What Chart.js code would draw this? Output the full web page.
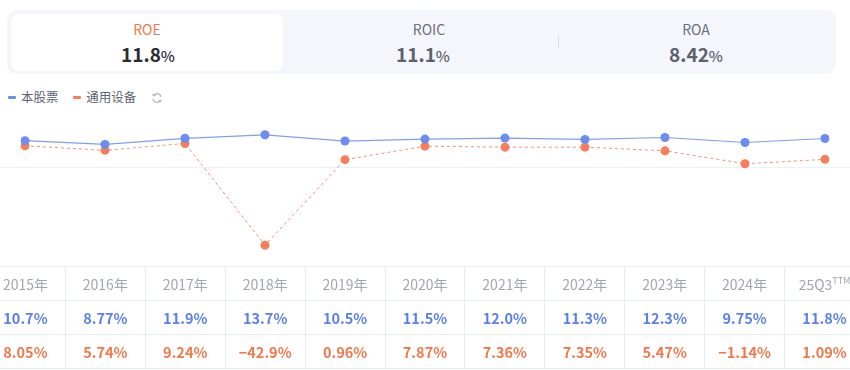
<!DOCTYPE html>
<html>
<head>
<meta charset="utf-8">
<script src="https://cdn.jsdelivr.net/npm/chart.js@4.4.1/dist/chart.umd.min.js"></script>
<style>
  html, body { margin: 0; padding: 0; background: #fff; }
  body { width: 850px; height: 370px; position: relative; overflow: hidden;
         font-family: "Noto Sans CJK SC", "Noto Sans", sans-serif; }
  .card { position: absolute; left: 7px; top: 10px; width: 829px; height: 64px;
          background: #f4f6fc; border-radius: 10px; }
  .tab-active { position: absolute; left: 11px; top: 14px; width: 272px; height: 57px;
                background: #fff; border-radius: 8px; }
  .lbl { position: absolute; width: 200px; text-align: center; font-size: 14px; line-height: 16px; }
  .val { position: absolute; width: 200px; text-align: center; font-size: 19px; line-height: 22px; font-weight: 600; }
  .val small { font-size: 15px; font-weight: 500; }
  .divider { position: absolute; left: 558px; top: 36px; width: 1px; height: 11px; background: #d6d9e2; }
  .legend { position: absolute; left: 8px; top: 88px; font-size: 12.5px; color: #5f6470; line-height: 18px; }
  .legend span.mk { display: inline-block; width: 8px; height: 3px; border-radius: 1px; vertical-align: middle; margin-right: 5px; position: relative; top: -1px; }
  .legend span.it { margin-right: 12px; }
  #wrap { position: absolute; left: 0; top: 110px; width: 850px; height: 160px; }
  table { position: absolute; left: -15px; top: 266px; width: 880px; border-collapse: collapse; table-layout: fixed; }
  td { height: 33px; border: 1px solid #e7ebf5; text-align: center; padding: 0; white-space: nowrap; overflow: visible; }
  tr.head td { color: #a3a6ae; font-size: 14px; }
  tr.s1 td { color: #5b80ea; font-size: 14.5px; font-weight: 600; }
  tr.s2 td { color: #f2774c; font-size: 14.5px; font-weight: 600; }
  sup { font-size: 9px; }
</style>
</head>
<body>
<div class="card"></div>
<div class="tab-active"></div>
<div class="lbl" style="left:47px;top:21px;color:#f0784e;">ROE</div>
<div class="val" style="left:48px;top:43px;color:#2a2d35;">11.8<small>%</small></div>
<div class="lbl" style="left:329px;top:21px;color:#6b6f7a;">ROIC</div>
<div class="val" style="left:323px;top:43px;color:#5c616d;">11.1<small>%</small></div>
<div class="divider"></div>
<div class="lbl" style="left:596px;top:21px;color:#6b6f7a;">ROA</div>
<div class="val" style="left:596px;top:43px;color:#5c616d;">8.42<small>%</small></div>

<div class="legend">
  <span class="mk" style="background:#6b8df0"></span><span class="it">本股票</span>
  <span class="mk" style="background:#f47c56"></span><span class="it">通用设备</span>
  <svg width="12" height="12" viewBox="0 0 12 12" style="vertical-align:middle;position:relative;top:-1px;">
    <path d="M10 5 A4 4 0 0 0 2.6 3.6" fill="none" stroke="#b5b8c0" stroke-width="1.3"/>
    <path d="M2 7 A4 4 0 0 0 9.4 8.4" fill="none" stroke="#b5b8c0" stroke-width="1.3"/>
    <path d="M1.6 2 L2.6 3.9 L4.6 3.4" fill="none" stroke="#b5b8c0" stroke-width="1.2"/>
    <path d="M10.4 10 L9.4 8.1 L7.4 8.6" fill="none" stroke="#b5b8c0" stroke-width="1.2"/>
  </svg>
</div>

<div id="wrap"><canvas id="chart"></canvas></div>
<table id="tbl"></table>

<script>
// categories and ROE values (%)
const years = ['2015年', '2016年', '2017年', '2018年', '2019年', '2020年', '2021年', '2022年', '2023年', '2024年', '25Q3'];
const stockRoe = [10.7, 8.77, 11.9, 13.7, 10.5, 11.5, 12.0, 11.3, 12.3, 9.75, 11.8];
const industryRoe = [8.05, 5.74, 9.24, -42.9, 0.96, 7.87, 7.36, 7.35, 5.47, -1.14, 1.09];
const gridValue = -3;

const blue = '#6a8cf3';
const orange = '#f77e58';

// single faint horizontal line across the full width
const gridPlugin = {
  id: 'fullGrid',
  beforeDatasetsDraw(chart) {
    const y = Math.round(chart.scales.y.getPixelForValue(gridValue)) + 0.5;
    const ctx = chart.ctx;
    ctx.save();
    ctx.strokeStyle = '#eef0f5';
    ctx.lineWidth = 1;
    ctx.beginPath();
    ctx.moveTo(0, y);
    ctx.lineTo(chart.width, y);
    ctx.stroke();
    ctx.restore();
  }
};

const ctx = document.getElementById('chart').getContext('2d');
new Chart(ctx, {
  type: 'line',
  data: {
    labels: years,
    datasets: [
      {
        label: '本股票',
        data: stockRoe,
        borderColor: '#819ff0',
        borderWidth: 1.2,
        pointRadius: 4.5,
        pointBackgroundColor: blue,
        pointBorderWidth: 0,
        tension: 0
      },
      {
        label: '通用设备',
        data: industryRoe,
        borderColor: '#f39073',
        borderWidth: 1,
        borderDash: [3, 3],
        pointRadius: 4.5,
        pointBackgroundColor: orange,
        pointBorderWidth: 0,
        tension: 0
      }
    ]
  },
  options: {
    responsive: true,
    maintainAspectRatio: false,
    animation: false,
    layout: { padding: { left: 25, right: 25, top: 12.5, bottom: 11 } },
    plugins: {
      legend: { display: false },
      tooltip: { enabled: false }
    },
    scales: {
      x: { display: false },
      y: { display: false, min: -50, max: 20 }
    }
  },
  plugins: [gridPlugin]
});

// data table under the chart
const tbl = document.getElementById('tbl');
function addRow(cls, cells) {
  const tr = document.createElement('tr');
  tr.className = cls;
  cells.forEach(c => {
    const td = document.createElement('td');
    td.innerHTML = c;
    tr.appendChild(td);
  });
  tbl.appendChild(tr);
}
addRow('head', years.map(y => y === '25Q3' ? '25Q3<sup>TTM</sup>' : y));
addRow('s1', stockRoe.map(v => v.toFixed(v >= 10 ? 1 : 2) + '%'));
addRow('s2', industryRoe.map(v => {
  const s = Math.abs(v) >= 10 ? v.toFixed(1) : v.toFixed(2);
  return s.replace('-', '−') + '%';
}));
</script>
</body>
</html>
